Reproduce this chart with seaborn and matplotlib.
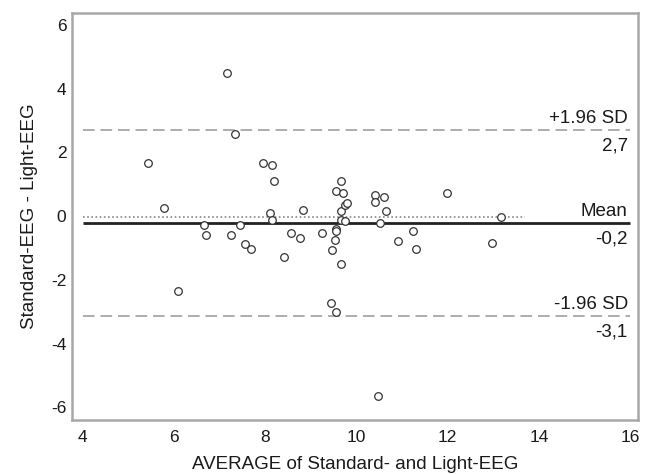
import pandas as pd
import matplotlib
matplotlib.use("Agg")
import matplotlib.pyplot as plt
import seaborn as sns

# Bland-Altman data
average = [5.42, 5.79, 6.08, 6.66, 6.71, 7.15, 7.25, 7.33, 7.44, 7.55, 7.69, 7.95,
           8.10, 8.14, 8.14, 8.19, 8.41, 8.57, 8.77, 8.82, 9.24, 9.44, 9.46, 9.52,
           9.56, 9.55, 9.56, 9.56, 9.65, 9.65, 9.65, 9.66, 9.70, 9.75, 9.79, 9.74,
           10.40, 10.40, 10.48, 10.51, 10.60, 10.64, 10.91, 11.24, 11.30, 11.99,
           12.97, 13.18]
difference = [1.66, 0.24, -2.36, -0.29, -0.60, 4.48, -0.60, 2.59, -0.27, -0.87, -1.03, 1.66,
              0.10, -0.11, 1.61, 1.09, -1.30, -0.54, -0.70, 0.18, -0.54, -2.72, -1.05, -0.76,
              -0.40, -0.46, -3.01, 0.78, 1.11, -1.49, 0.16, -0.11, 0.73, 0.34, 0.41, -0.17,
              0.67, 0.43, -5.65, -0.21, 0.60, 0.16, -0.79, -0.48, -1.03, 0.73,
              -0.85, -0.02]

mean_diff = -0.23
upper_loa = 2.69
lower_loa = -3.14
ref_level = -0.03
line_labels = [("+1.96 SD", "2,7", upper_loa), ("Mean", "-0,2", mean_diff), ("-1.96 SD", "-3,1", lower_loa)]

df = pd.DataFrame({"avg": average, "diff": difference})

sns.set_style("white")
plt.rcParams["font.family"] = ["Liberation Sans", "DejaVu Sans"]
plt.rcParams["axes.unicode_minus"] = False

fig = plt.figure(figsize=(6.48, 4.74), dpi=100)
ax = fig.add_axes([0.111, 0.114, 0.874, 0.859])

ax.hlines(ref_level, 4.0, 13.7, colors="#888888", linestyles=(0, (1, 1.5)), linewidth=1.2)
ax.hlines([upper_loa, lower_loa], 4.0, 16.0, colors="#a0a0a0", linestyles=(0, (7, 3.5)), linewidth=1.2)
ax.hlines(mean_diff, 4.0, 16.0, colors="#222222", linewidth=2)

sns.scatterplot(data=df, x="avg", y="diff", ax=ax, marker="o", s=30,
                facecolor="white", edgecolor="#333333", linewidth=0.9, zorder=3)

for top, bottom, y in line_labels:
    ax.text(15.95, y + 0.1, top, ha="right", va="bottom", fontsize=13.5, color="#1a1a1a")
    ax.text(15.95, y - 0.22, bottom, ha="right", va="top", fontsize=13.5, color="#1a1a1a")

ax.set_xlim(3.76, 16.18)
ax.set_ylim(-6.4, 6.38)
ax.set_xticks([4, 6, 8, 10, 12, 14, 16])
ax.set_yticks([-6, -4, -2, 0, 2, 4, 6])
ax.tick_params(length=0, labelsize=12.5, colors="#1a1a1a")
ax.tick_params(axis="x", pad=7)
ax.tick_params(axis="y", pad=4)
ax.set_xlabel("AVERAGE of Standard- and Light-EEG", fontsize=13.5, color="#1a1a1a", labelpad=8)
ax.set_ylabel("Standard-EEG - Light-EEG", fontsize=13.5, color="#1a1a1a", labelpad=9)
for sp in ax.spines.values():
    sp.set_color("#a8a8a8")
    sp.set_linewidth(1.8)

fig.savefig("out.png", dpi=100)
